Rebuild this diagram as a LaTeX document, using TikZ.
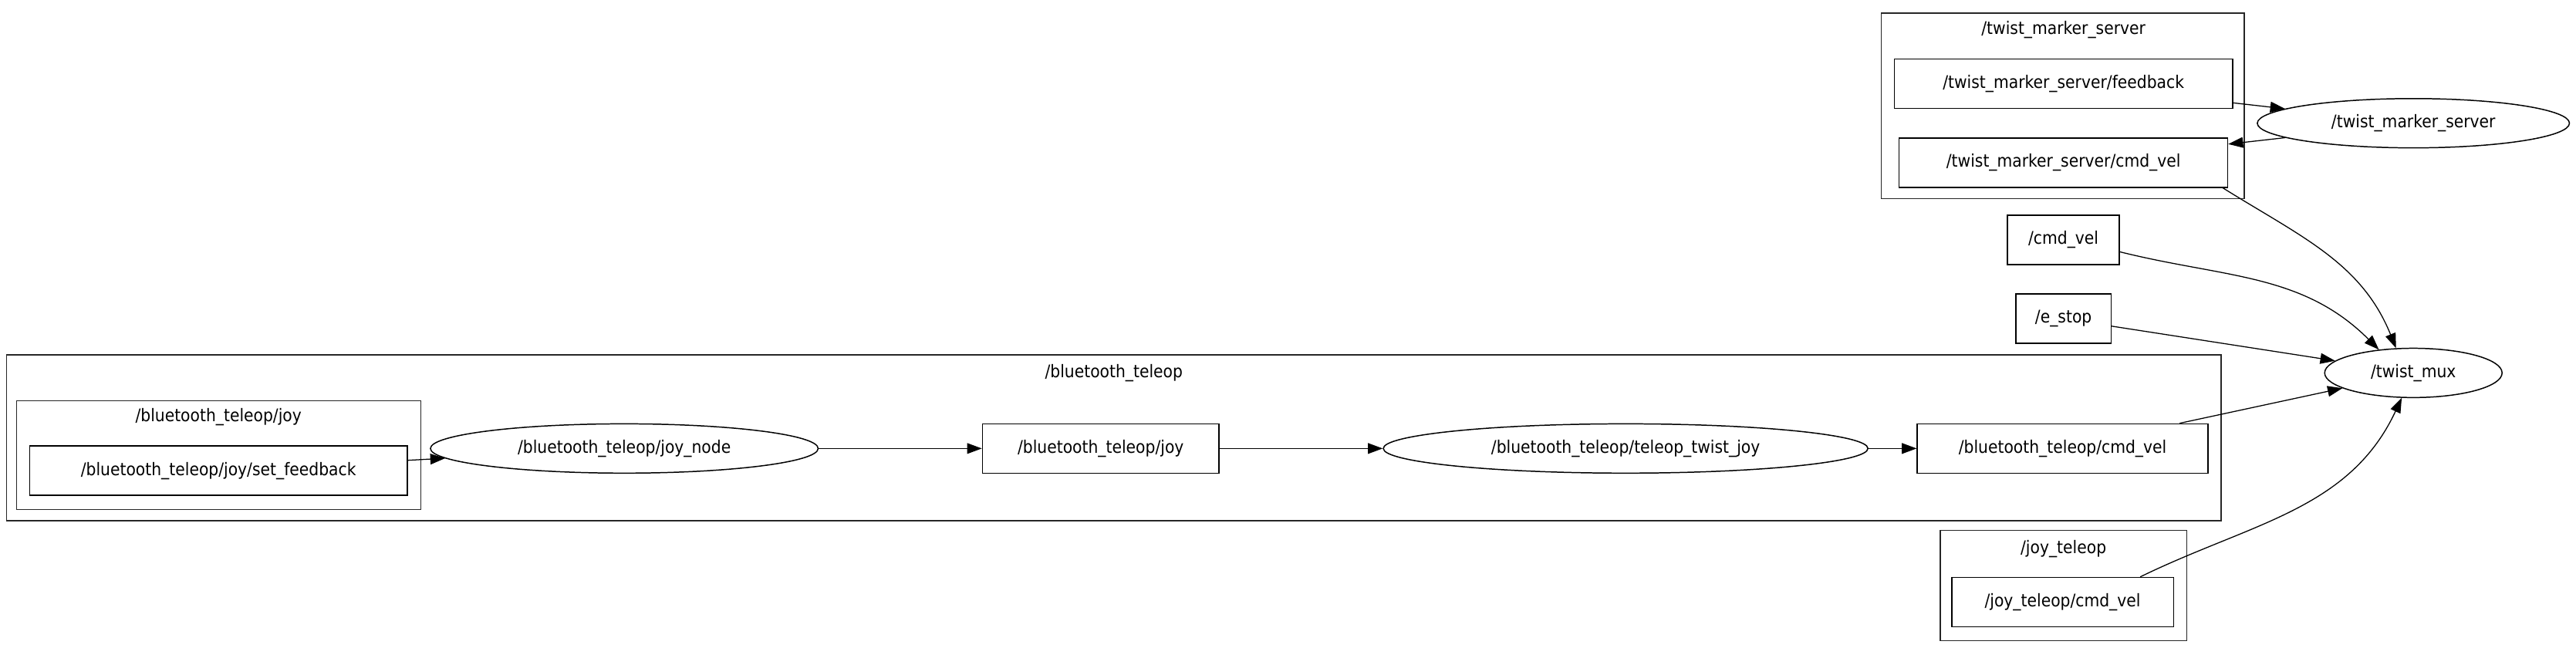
\documentclass[tikz,border=0pt]{standalone}
\usepackage{fontspec}
\setmainfont{DejaVu Sans Condensed}
\usetikzlibrary{arrows.meta,shapes.geometric}

\begin{document}
\begin{tikzpicture}[x=1pt, y=-1pt,
    topic/.style={draw, line width=0.7pt, inner sep=0pt, minimum height=30pt},
    rosnode/.style={draw, ellipse, line width=0.7pt, inner sep=0pt, minimum height=30pt},
    cluster/.style={draw=black!85, line width=0.6pt},
    edge/.style={-{Triangle[length=9pt, width=6.5pt]}, line width=0.6pt},
    font=\fontsize{10.6}{12}\selectfont]
  \useasboundingbox (0,0) rectangle (1568,394);

  % namespace boxes
  \draw[cluster] (1145,8) rectangle (1366,121);
  \draw[cluster] (4,216) rectangle (1352,317);
  \draw[cluster] (10,244) rectangle (256,310);
  \draw[cluster] (1181,323) rectangle (1331,390);
  \foreach \n/\x/\y/\t in {
      lbltms/1256/18/{/twist\_marker\_server},
      lblbt/678/227/{/bluetooth\_teleop},
      lblbtjoy/133/254/{/bluetooth\_teleop/joy},
      lbljt/1256/334/{/joy\_teleop}} {
    \node (\n) at (\x,\y) {\t};
  }

  % topics
  \foreach \n/\x/\y/\w/\t in {
      fb/1256/51/206/{/twist\_marker\_server/feedback},
      tmscmd/1256/99/200/{/twist\_marker\_server/cmd\_vel},
      cmdvel/1256/146/68/{/cmd\_vel},
      estop/1256/194/58/{/e\_stop},
      sfb/133/286.5/230/{/bluetooth\_teleop/joy/set\_feedback},
      btjoy/670/273/144/{/bluetooth\_teleop/joy},
      bcmd/1255.5/273/177/{/bluetooth\_teleop/cmd\_vel},
      jcmd/1255.5/366.5/135/{/joy\_teleop/cmd\_vel}} {
    \node[topic, minimum width=\w pt] (\n) at (\x,\y) {\t};
  }

  % nodes
  \foreach \n/\x/\y/\w/\t in {
      tms/1469/75/190/{/twist\_marker\_server},
      mux/1469/227/108/{/twist\_mux},
      joynode/380/273/236/{/bluetooth\_teleop/joy\_node},
      ttj/989.5/273/295/{/bluetooth\_teleop/teleop\_twist\_joy}} {
    \node[rosnode, minimum width=\w pt] (\n) at (\x,\y) {\t};
  }

  % connections
  \draw[edge] (sfb) -- (joynode);
  \draw[edge] (joynode) -- (btjoy);
  \draw[edge] (btjoy) -- (ttj);
  \draw[edge] (ttj) -- (bcmd);
  \draw[edge] (fb) -- (tms);
  \draw[edge] (tms) -- (tmscmd);
  \draw[edge] (bcmd) -- (mux);
  \draw[edge] (estop) -- (mux);
  \draw[edge] (cmdvel.-12) to[out=-14, in=135] (mux.146);
  \draw[edge] (tmscmd.-9) to[out=-32, in=112] (mux.125);
  \draw[edge] (jcmd.18) to[out=26, in=-115] (mux);

\end{tikzpicture}
\end{document}
